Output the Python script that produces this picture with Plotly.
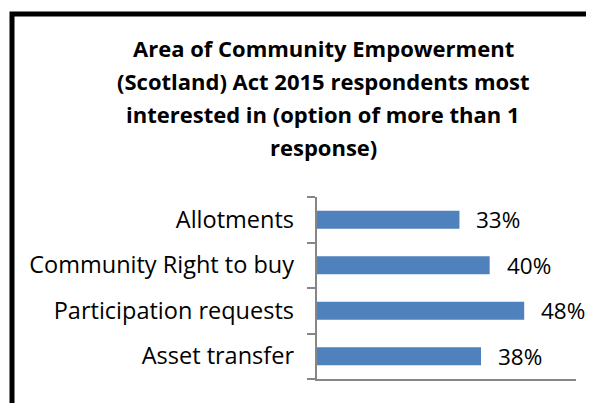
import plotly.graph_objects as go

title_lines = [
    "Area of Community Empowerment",
    "(Scotland) Act 2015 respondents most",
    "interested in (option of more than 1",
    "response)",
]
categories = ["Allotments", "Community Right to buy", "Participation requests", "Asset transfer"]
values = [0.33, 0.40, 0.48, 0.38]
boundaries = [-0.5, 0.5, 1.5, 2.5, 3.5]

OFF = 8  # page body margin
W, H = 594 - OFF, 403 - OFF
L, R, T, B = 317 - OFF, 18, 197 - OFF, 24
pw, ph = W - L - R, H - T - B

def px_x(p):  # reference pixel -> paper
    return (p - OFF - L) / pw

def px_y(p):
    return (H - B - (p - OFF)) / ph

FONT = "Open Sans"
AXC = "#868686"
BAR = "#4F81BD"

fig = go.Figure()
fig.add_trace(go.Bar(
    x=values, y=categories, orientation="h",
    marker=dict(color=BAR, line=dict(width=0)),
    width=0.4, hoverinfo="skip", showlegend=False,
))
fig.add_trace(go.Scatter(x=[None], y=[None], yaxis="y2", showlegend=False, hoverinfo="skip"))

annotations = []
for c, v in zip(categories, values):
    annotations.append(dict(
        x=v, y=c, xref="x", yref="y", text=f"{round(v*100)}%",
        showarrow=False, xanchor="left", yanchor="middle", xshift=15,
        font=dict(family=FONT, size=22.5, color="#000000"),
    ))
title_y = [48, 81, 114, 147]
for line, yy in zip(title_lines, title_y):
    annotations.append(dict(
        x=px_x(323), y=px_y(yy), xref="paper", yref="paper", text=f"<b>{line}</b>",
        showarrow=False, xanchor="center", yanchor="middle",
        font=dict(family=FONT, size=22, color="#000000"),
    ))

fig.update_layout(
    width=W, height=H,
    margin=dict(l=L, r=R, t=T, b=B),
    paper_bgcolor="white", plot_bgcolor="white",
    xaxis=dict(range=[0, 0.6], showgrid=False, zeroline=False, showticklabels=False,
               ticks="", showline=True, linecolor=AXC, linewidth=1.5, fixedrange=True),
    yaxis=dict(categoryorder="array", categoryarray=categories, autorange="reversed",
               showgrid=False, zeroline=False, showline=False, ticks="",
               ticklabelstandoff=22,
               tickfont=dict(family=FONT, size=23.5, color="#000000")),
    yaxis2=dict(overlaying="y", anchor="x", side="left", range=[3.5, -0.5],
                tickmode="array", tickvals=boundaries, ticks="outside", ticklen=8,
                tickcolor=AXC, tickwidth=1.5, showticklabels=False, showgrid=False,
                zeroline=False, showline=True, linecolor=AXC, linewidth=1.5),
    annotations=annotations,
    shapes=[dict(type="rect", xref="paper", yref="paper",
                 x0=px_x(12), x1=px_x(700), y0=px_y(500), y1=px_y(14),
                 line=dict(color="black", width=5), fillcolor="rgba(0,0,0,0)")],
    bargap=0.6,
)

fig.write_html("out.html")
